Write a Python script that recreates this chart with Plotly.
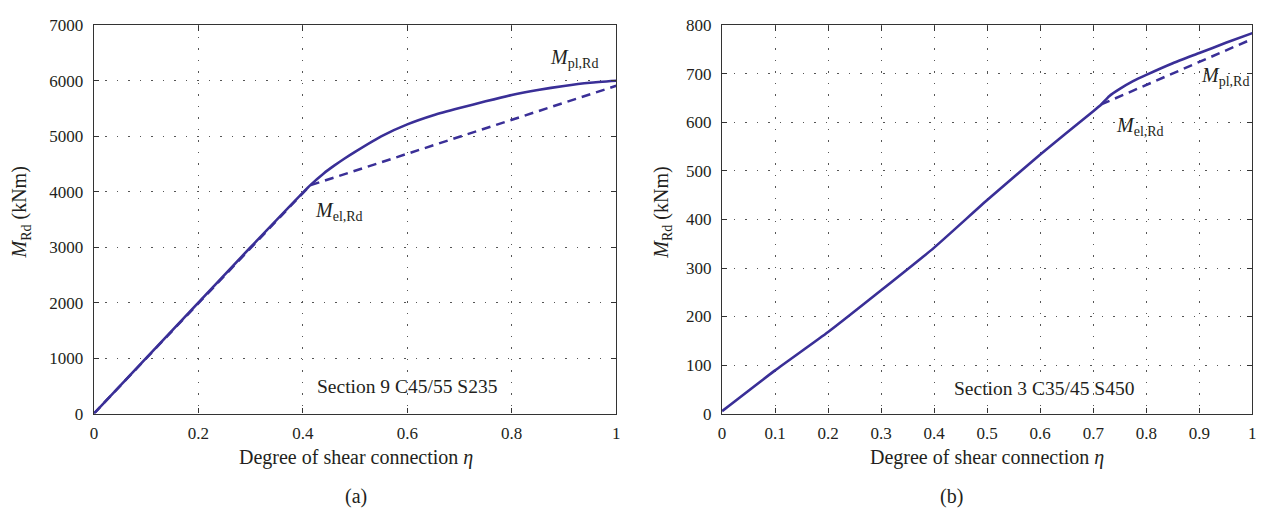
import plotly.graph_objects as go

# ---- data (a): Section 9 C45/55 S235 ----
eta_a = [0.0, 0.1, 0.2, 0.3, 0.414, 0.44, 0.46, 0.48, 0.5, 0.55, 0.6, 0.65, 0.7,
         0.75, 0.8, 0.85, 0.9, 0.95, 1.0]
m_a = [0, 1000, 2000, 3000, 4115, 4330, 4470, 4600, 4720, 5000, 5215, 5380, 5510,
       5630, 5745, 5835, 5908, 5965, 6000]
eta_a_lin = [0.0, 0.414, 1.0]
m_a_lin = [0, 4115, 5910]

# ---- data (b): Section 3 C35/45 S450 ----
eta_b = [0.0, 0.1, 0.2, 0.3, 0.4, 0.5, 0.6, 0.7, 0.715, 0.73, 0.75, 0.775, 0.8,
         0.85, 0.9, 0.95, 1.0]
m_b = [5, 89, 168, 254, 342, 440, 534, 623, 637, 654, 669, 685, 698,
       722, 743, 764, 784]
eta_b_lin = [0.715, 1.0]
m_b_lin = [637, 772]

xticks_a = [0, 0.2, 0.4, 0.6, 0.8, 1]
xtext_a = ["0", "0.2", "0.4", "0.6", "0.8", "1"]
yticks_a = [0, 1000, 2000, 3000, 4000, 5000, 6000, 7000]
xticks_b = [0, 0.1, 0.2, 0.3, 0.4, 0.5, 0.6, 0.7, 0.8, 0.9, 1]
xtext_b = ["0", "0.1", "0.2", "0.3", "0.4", "0.5", "0.6", "0.7", "0.8", "0.9", "1"]
yticks_b = [0, 100, 200, 300, 400, 500, 600, 700, 800]

LINE = "#3a2f97"
TXT = "#231f20"
FONT = "Liberation Serif"
W, H = 1266, 515


def fx(rx):
    # reference pixel x -> paper fraction
    return (rx - 11) / 0.995 / W


def fy(ry):
    # reference pixel y -> paper fraction
    return 1 - (ry - 16.6) / 0.9675 / H


fig = go.Figure()
fig.add_trace(go.Scatter(x=eta_a_lin, y=m_a_lin, mode="lines",
                         line=dict(color=LINE, width=2.5, dash="9px,6px"),
                         xaxis="x", yaxis="y", showlegend=False, hoverinfo="skip"))
fig.add_trace(go.Scatter(x=eta_a, y=m_a, mode="lines", line_shape="spline",
                         line=dict(color=LINE, width=2.6, smoothing=0.5),
                         xaxis="x", yaxis="y", showlegend=False))
fig.add_trace(go.Scatter(x=eta_b_lin, y=m_b_lin, mode="lines",
                         line=dict(color=LINE, width=2.5, dash="9px,6px"),
                         xaxis="x2", yaxis="y2", showlegend=False, hoverinfo="skip"))
fig.add_trace(go.Scatter(x=eta_b, y=m_b, mode="lines", line_shape="spline",
                         line=dict(color=LINE, width=2.6, smoothing=0.5),
                         xaxis="x2", yaxis="y2", showlegend=False))

ydom = [fy(415), fy(25)]
axis_common = dict(showline=True, linecolor="#333", linewidth=1.3, mirror="ticks",
                   ticks="inside", ticklen=5, tickcolor="#333", tickwidth=1,
                   showgrid=True, gridcolor="#555", gridwidth=1, griddash="1.5px,10px",
                   zeroline=False, ticklabeloverflow="allow",
                   tickfont=dict(family=FONT, size=17, color=TXT))

fig.update_layout(
    width=W, height=H,
    margin=dict(l=0, r=0, t=0, b=0),
    paper_bgcolor="white", plot_bgcolor="white",
    font=dict(family=FONT, color=TXT),
    xaxis=dict(domain=[fx(93), fx(616)], range=[0, 1], tickvals=xticks_a,
               ticktext=xtext_a, anchor="y", ticklabelstandoff=4, **axis_common),
    yaxis=dict(domain=ydom, range=[0, 7000], tickvals=yticks_a, anchor="x",
               ticklabelstandoff=6, **axis_common),
    xaxis2=dict(domain=[fx(722), fx(1253)], range=[0, 1], tickvals=xticks_b,
                ticktext=xtext_b, anchor="y2", ticklabelstandoff=4, **axis_common),
    yaxis2=dict(domain=ydom, range=[0, 800], tickvals=yticks_b, anchor="x2",
                ticklabelstandoff=6, **axis_common),
)


def ann(text, x, y, size=20, angle=0):
    fig.add_annotation(text=text, x=fx(x), y=fy(y), xref="paper", yref="paper",
                       showarrow=False, textangle=angle, xanchor="center",
                       yanchor="middle", font=dict(family=FONT, size=size, color=TXT))


ann("Degree of shear connection <i>η</i>", 355, 459)
ann("Degree of shear connection <i>η</i>", 987, 459)
ann("(a)", 355, 498)
ann("(b)", 952, 498)
ann("<i>M</i><sub>Rd</sub> (kNm)", 20, 213, angle=-90)
ann("<i>M</i><sub>Rd</sub> (kNm)", 662, 213, angle=-90)
ann("Section 9 C45/55 S235", 407, 388, size=19.5)
ann("Section 3 C35/45 S450", 1044, 390, size=19.5)
ann("<i>M</i><sub>pl,Rd</sub>", 574, 58)
ann("<i>M</i><sub>el,Rd</sub>", 338, 212)
ann("<i>M</i><sub>pl,Rd</sub>", 1226, 76)
ann("<i>M</i><sub>el,Rd</sub>", 1140, 127)

fig.write_html("out.html")
